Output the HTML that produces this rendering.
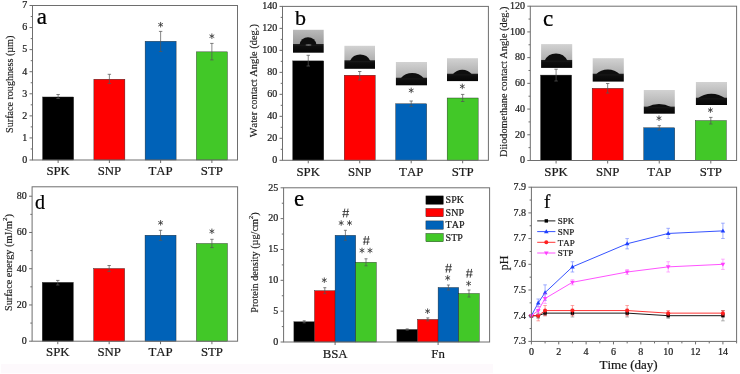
<!DOCTYPE html><html><head><meta charset="utf-8"><style>html,body{margin:0;padding:0;background:#fff;overflow:hidden}svg{display:block;will-change:transform;font-kerning:none}</style></head><body><svg width="740" height="374" viewBox="0 0 740 374" font-family='"Liberation Serif", serif'><rect width="740" height="374" fill="#fff"/><rect x="1" y="364" width="492" height="9.3" fill="#fdf9fc"/><line x1="30.70" y1="148.96" x2="32.50" y2="148.96" stroke="#6e6e6e" stroke-width="1"/><line x1="30.70" y1="126.89" x2="32.50" y2="126.89" stroke="#6e6e6e" stroke-width="1"/><line x1="30.70" y1="104.82" x2="32.50" y2="104.82" stroke="#6e6e6e" stroke-width="1"/><line x1="30.70" y1="82.75" x2="32.50" y2="82.75" stroke="#6e6e6e" stroke-width="1"/><line x1="30.70" y1="60.68" x2="32.50" y2="60.68" stroke="#6e6e6e" stroke-width="1"/><line x1="30.70" y1="38.61" x2="32.50" y2="38.61" stroke="#6e6e6e" stroke-width="1"/><line x1="30.70" y1="16.54" x2="32.50" y2="16.54" stroke="#6e6e6e" stroke-width="1"/><line x1="29.50" y1="160.00" x2="32.50" y2="160.00" stroke="#6e6e6e" stroke-width="1"/><text x="27.20" y="162.80" font-size="10" text-anchor="end" fill="#1a1a1a" stroke="#1a1a1a" stroke-width="0.22" >0</text><line x1="29.50" y1="137.93" x2="32.50" y2="137.93" stroke="#6e6e6e" stroke-width="1"/><text x="27.20" y="140.73" font-size="10" text-anchor="end" fill="#1a1a1a" stroke="#1a1a1a" stroke-width="0.22" >1</text><line x1="29.50" y1="115.86" x2="32.50" y2="115.86" stroke="#6e6e6e" stroke-width="1"/><text x="27.20" y="118.66" font-size="10" text-anchor="end" fill="#1a1a1a" stroke="#1a1a1a" stroke-width="0.22" >2</text><line x1="29.50" y1="93.79" x2="32.50" y2="93.79" stroke="#6e6e6e" stroke-width="1"/><text x="27.20" y="96.59" font-size="10" text-anchor="end" fill="#1a1a1a" stroke="#1a1a1a" stroke-width="0.22" >3</text><line x1="29.50" y1="71.71" x2="32.50" y2="71.71" stroke="#6e6e6e" stroke-width="1"/><text x="27.20" y="74.51" font-size="10" text-anchor="end" fill="#1a1a1a" stroke="#1a1a1a" stroke-width="0.22" >4</text><line x1="29.50" y1="49.64" x2="32.50" y2="49.64" stroke="#6e6e6e" stroke-width="1"/><text x="27.20" y="52.44" font-size="10" text-anchor="end" fill="#1a1a1a" stroke="#1a1a1a" stroke-width="0.22" >5</text><line x1="29.50" y1="27.57" x2="32.50" y2="27.57" stroke="#6e6e6e" stroke-width="1"/><text x="27.20" y="30.37" font-size="10" text-anchor="end" fill="#1a1a1a" stroke="#1a1a1a" stroke-width="0.22" >6</text><line x1="29.50" y1="5.50" x2="32.50" y2="5.50" stroke="#6e6e6e" stroke-width="1"/><text x="27.20" y="8.30" font-size="10" text-anchor="end" fill="#1a1a1a" stroke="#1a1a1a" stroke-width="0.22" >7</text><line x1="58.12" y1="160.00" x2="58.12" y2="163.00" stroke="#6e6e6e" stroke-width="1"/><text x="58.12" y="175.20" font-size="12.8" text-anchor="middle" fill="#1a1a1a" stroke="#1a1a1a" stroke-width="0.22" >SPK</text><line x1="109.38" y1="160.00" x2="109.38" y2="163.00" stroke="#6e6e6e" stroke-width="1"/><text x="109.38" y="175.20" font-size="12.8" text-anchor="middle" fill="#1a1a1a" stroke="#1a1a1a" stroke-width="0.22" >SNP</text><line x1="160.62" y1="160.00" x2="160.62" y2="163.00" stroke="#6e6e6e" stroke-width="1"/><text x="160.62" y="175.20" font-size="12.8" text-anchor="middle" fill="#1a1a1a" stroke="#1a1a1a" stroke-width="0.22" >TAP</text><line x1="211.88" y1="160.00" x2="211.88" y2="163.00" stroke="#6e6e6e" stroke-width="1"/><text x="211.88" y="175.20" font-size="12.8" text-anchor="middle" fill="#1a1a1a" stroke="#1a1a1a" stroke-width="0.22" >STP</text><rect x="42.62" y="96.99" width="31.00" height="63.01" fill="#000000" stroke="#202020" stroke-width="0.4"/><rect x="93.88" y="79.22" width="31.00" height="80.78" fill="#ff0000" stroke="#202020" stroke-width="0.4"/><rect x="145.12" y="41.26" width="31.00" height="118.74" fill="#0062b8" stroke="#202020" stroke-width="0.4"/><rect x="196.38" y="51.85" width="31.00" height="108.15" fill="#42c828" stroke="#202020" stroke-width="0.4"/><line x1="58.12" y1="94.50" x2="58.12" y2="98.50" stroke="#555555" stroke-width="0.7"/><line x1="56.42" y1="94.50" x2="59.83" y2="94.50" stroke="#555555" stroke-width="0.75"/><line x1="56.42" y1="98.50" x2="59.83" y2="98.50" stroke="#555555" stroke-width="0.75"/><line x1="109.38" y1="74.30" x2="109.38" y2="83.50" stroke="#555555" stroke-width="0.7"/><line x1="107.67" y1="74.30" x2="111.08" y2="74.30" stroke="#555555" stroke-width="0.75"/><line x1="107.67" y1="83.50" x2="111.08" y2="83.50" stroke="#555555" stroke-width="0.75"/><line x1="160.62" y1="31.40" x2="160.62" y2="51.50" stroke="#555555" stroke-width="0.7"/><line x1="158.93" y1="31.40" x2="162.32" y2="31.40" stroke="#555555" stroke-width="0.75"/><line x1="158.93" y1="51.50" x2="162.32" y2="51.50" stroke="#555555" stroke-width="0.75"/><line x1="211.88" y1="43.40" x2="211.88" y2="59.90" stroke="#555555" stroke-width="0.7"/><line x1="210.18" y1="43.40" x2="213.57" y2="43.40" stroke="#555555" stroke-width="0.75"/><line x1="210.18" y1="59.90" x2="213.57" y2="59.90" stroke="#555555" stroke-width="0.75"/><path d="M160.62,22.35L160.62,27.05M158.59,23.52L162.66,25.88M162.66,23.52L158.59,25.88" stroke="#3a3a3a" stroke-width="0.85" stroke-linecap="round" fill="none"/><path d="M211.88,33.85L211.88,38.55M209.84,35.03L213.91,37.38M213.91,35.03L209.84,37.38" stroke="#3a3a3a" stroke-width="0.85" stroke-linecap="round" fill="none"/><rect x="32.5" y="5.5" width="205.0" height="154.5" fill="none" stroke="#6e6e6e" stroke-width="1"/><text x="36.80" y="23.60" font-size="23" text-anchor="start" fill="#000" stroke="#000" stroke-width="0.22" >a</text><text x="0" y="0" font-size="10.1" text-anchor="middle" fill="#1a1a1a" stroke="#1a1a1a" stroke-width="0.15" transform="translate(12.80,84.30) rotate(-90)">Surface roughness (µm)</text><line x1="280.70" y1="149.31" x2="282.50" y2="149.31" stroke="#6e6e6e" stroke-width="1"/><line x1="280.70" y1="127.32" x2="282.50" y2="127.32" stroke="#6e6e6e" stroke-width="1"/><line x1="280.70" y1="105.34" x2="282.50" y2="105.34" stroke="#6e6e6e" stroke-width="1"/><line x1="280.70" y1="83.35" x2="282.50" y2="83.35" stroke="#6e6e6e" stroke-width="1"/><line x1="280.70" y1="61.36" x2="282.50" y2="61.36" stroke="#6e6e6e" stroke-width="1"/><line x1="280.70" y1="39.38" x2="282.50" y2="39.38" stroke="#6e6e6e" stroke-width="1"/><line x1="280.70" y1="17.39" x2="282.50" y2="17.39" stroke="#6e6e6e" stroke-width="1"/><line x1="279.50" y1="160.30" x2="282.50" y2="160.30" stroke="#6e6e6e" stroke-width="1"/><text x="277.20" y="163.10" font-size="10" text-anchor="end" fill="#1a1a1a" stroke="#1a1a1a" stroke-width="0.22" >0</text><line x1="279.50" y1="138.31" x2="282.50" y2="138.31" stroke="#6e6e6e" stroke-width="1"/><text x="277.20" y="141.11" font-size="10" text-anchor="end" fill="#1a1a1a" stroke="#1a1a1a" stroke-width="0.22" >20</text><line x1="279.50" y1="116.33" x2="282.50" y2="116.33" stroke="#6e6e6e" stroke-width="1"/><text x="277.20" y="119.13" font-size="10" text-anchor="end" fill="#1a1a1a" stroke="#1a1a1a" stroke-width="0.22" >40</text><line x1="279.50" y1="94.34" x2="282.50" y2="94.34" stroke="#6e6e6e" stroke-width="1"/><text x="277.20" y="97.14" font-size="10" text-anchor="end" fill="#1a1a1a" stroke="#1a1a1a" stroke-width="0.22" >60</text><line x1="279.50" y1="72.36" x2="282.50" y2="72.36" stroke="#6e6e6e" stroke-width="1"/><text x="277.20" y="75.16" font-size="10" text-anchor="end" fill="#1a1a1a" stroke="#1a1a1a" stroke-width="0.22" >80</text><line x1="279.50" y1="50.37" x2="282.50" y2="50.37" stroke="#6e6e6e" stroke-width="1"/><text x="277.20" y="53.17" font-size="10" text-anchor="end" fill="#1a1a1a" stroke="#1a1a1a" stroke-width="0.22" >100</text><line x1="279.50" y1="28.39" x2="282.50" y2="28.39" stroke="#6e6e6e" stroke-width="1"/><text x="277.20" y="31.19" font-size="10" text-anchor="end" fill="#1a1a1a" stroke="#1a1a1a" stroke-width="0.22" >120</text><line x1="279.50" y1="6.40" x2="282.50" y2="6.40" stroke="#6e6e6e" stroke-width="1"/><text x="277.20" y="9.20" font-size="10" text-anchor="end" fill="#1a1a1a" stroke="#1a1a1a" stroke-width="0.22" >140</text><line x1="308.24" y1="160.30" x2="308.24" y2="163.30" stroke="#6e6e6e" stroke-width="1"/><text x="308.24" y="175.50" font-size="12.8" text-anchor="middle" fill="#1a1a1a" stroke="#1a1a1a" stroke-width="0.22" >SPK</text><line x1="359.71" y1="160.30" x2="359.71" y2="163.30" stroke="#6e6e6e" stroke-width="1"/><text x="359.71" y="175.50" font-size="12.8" text-anchor="middle" fill="#1a1a1a" stroke="#1a1a1a" stroke-width="0.22" >SNP</text><line x1="411.19" y1="160.30" x2="411.19" y2="163.30" stroke="#6e6e6e" stroke-width="1"/><text x="411.19" y="175.50" font-size="12.8" text-anchor="middle" fill="#1a1a1a" stroke="#1a1a1a" stroke-width="0.22" >TAP</text><line x1="462.66" y1="160.30" x2="462.66" y2="163.30" stroke="#6e6e6e" stroke-width="1"/><text x="462.66" y="175.50" font-size="12.8" text-anchor="middle" fill="#1a1a1a" stroke="#1a1a1a" stroke-width="0.22" >STP</text><rect x="292.74" y="60.90" width="31.00" height="99.40" fill="#000000" stroke="#202020" stroke-width="0.4"/><rect x="344.21" y="75.20" width="31.00" height="85.10" fill="#ff0000" stroke="#202020" stroke-width="0.4"/><rect x="395.69" y="103.80" width="31.00" height="56.50" fill="#0062b8" stroke="#202020" stroke-width="0.4"/><rect x="447.16" y="98.00" width="31.00" height="62.30" fill="#42c828" stroke="#202020" stroke-width="0.4"/><line x1="308.24" y1="55.30" x2="308.24" y2="66.00" stroke="#555555" stroke-width="0.7"/><line x1="306.54" y1="55.30" x2="309.94" y2="55.30" stroke="#555555" stroke-width="0.75"/><line x1="306.54" y1="66.00" x2="309.94" y2="66.00" stroke="#555555" stroke-width="0.75"/><line x1="359.71" y1="71.50" x2="359.71" y2="80.00" stroke="#555555" stroke-width="0.7"/><line x1="358.01" y1="71.50" x2="361.41" y2="71.50" stroke="#555555" stroke-width="0.75"/><line x1="358.01" y1="80.00" x2="361.41" y2="80.00" stroke="#555555" stroke-width="0.75"/><line x1="411.19" y1="101.00" x2="411.19" y2="106.50" stroke="#555555" stroke-width="0.7"/><line x1="409.49" y1="101.00" x2="412.89" y2="101.00" stroke="#555555" stroke-width="0.75"/><line x1="409.49" y1="106.50" x2="412.89" y2="106.50" stroke="#555555" stroke-width="0.75"/><line x1="462.66" y1="94.40" x2="462.66" y2="101.50" stroke="#555555" stroke-width="0.7"/><line x1="460.96" y1="94.40" x2="464.36" y2="94.40" stroke="#555555" stroke-width="0.75"/><line x1="460.96" y1="101.50" x2="464.36" y2="101.50" stroke="#555555" stroke-width="0.75"/><path d="M411.20,88.05L411.20,92.75M409.16,89.23L413.24,91.58M413.24,89.23L409.16,91.58" stroke="#3a3a3a" stroke-width="0.85" stroke-linecap="round" fill="none"/><path d="M462.30,84.05L462.30,88.75M460.26,85.23L464.34,87.58M464.34,85.23L460.26,87.58" stroke="#3a3a3a" stroke-width="0.85" stroke-linecap="round" fill="none"/><defs><linearGradient id="g0" x1="0" y1="0" x2="0" y2="1"><stop offset="0" stop-color="#bababa"/><stop offset="1" stop-color="#9a9a9a"/></linearGradient><linearGradient id="s0" x1="0" y1="0" x2="0" y2="1"><stop offset="0" stop-color="#222"/><stop offset="0.3" stop-color="#0e0e0e"/><stop offset="1" stop-color="#060606"/></linearGradient></defs><rect x="293.00" y="29.80" width="30.70" height="14.20" fill="url(#g0)"/><rect x="293.00" y="44.00" width="30.70" height="8.70" fill="url(#s0)"/><path d="M299.60,44.80 A8.44,8.44 0 0 1 316.40,44.80 Z" fill="#0e0e0e"/><ellipse cx="308.5" cy="45" rx="3.2" ry="0.65" fill="#bdbdbd" opacity="0.6"/><defs><linearGradient id="g1" x1="0" y1="0" x2="0" y2="1"><stop offset="0" stop-color="#d2d2d2"/><stop offset="1" stop-color="#b0b0b0"/></linearGradient><linearGradient id="s1" x1="0" y1="0" x2="0" y2="1"><stop offset="0" stop-color="#222"/><stop offset="0.3" stop-color="#0e0e0e"/><stop offset="1" stop-color="#060606"/></linearGradient></defs><rect x="344.40" y="45.80" width="30.60" height="14.40" fill="url(#g1)"/><rect x="344.40" y="60.20" width="30.60" height="8.60" fill="url(#s1)"/><path d="M350.00,61.00 A11.25,11.25 0 0 1 370.30,61.00 Z" fill="#0e0e0e"/><defs><linearGradient id="g2" x1="0" y1="0" x2="0" y2="1"><stop offset="0" stop-color="#d2d2d2"/><stop offset="1" stop-color="#b0b0b0"/></linearGradient><linearGradient id="s2" x1="0" y1="0" x2="0" y2="1"><stop offset="0" stop-color="#222"/><stop offset="0.3" stop-color="#0e0e0e"/><stop offset="1" stop-color="#060606"/></linearGradient></defs><rect x="395.90" y="62.00" width="31.10" height="15.60" fill="url(#g2)"/><rect x="395.90" y="77.60" width="31.10" height="7.70" fill="url(#s2)"/><path d="M400.60,78.40 A15.09,15.09 0 0 1 423.90,78.40 Z" fill="#0e0e0e"/><defs><linearGradient id="g3" x1="0" y1="0" x2="0" y2="1"><stop offset="0" stop-color="#d2d2d2"/><stop offset="1" stop-color="#b0b0b0"/></linearGradient><linearGradient id="s3" x1="0" y1="0" x2="0" y2="1"><stop offset="0" stop-color="#222"/><stop offset="0.3" stop-color="#0e0e0e"/><stop offset="1" stop-color="#060606"/></linearGradient></defs><rect x="447.00" y="58.20" width="31.00" height="15.40" fill="url(#g3)"/><rect x="447.00" y="73.60" width="31.00" height="7.50" fill="url(#s3)"/><path d="M452.60,74.40 A12.53,12.53 0 0 1 472.00,74.40 Z" fill="#0e0e0e"/><rect x="282.5" y="6.4" width="205.89999999999998" height="153.9" fill="none" stroke="#6e6e6e" stroke-width="1"/><text x="295.00" y="25.00" font-size="22" text-anchor="start" fill="#000" stroke="#000" stroke-width="0.22" >b</text><text x="0" y="0" font-size="10.4" text-anchor="middle" fill="#1a1a1a" stroke="#1a1a1a" stroke-width="0.15" transform="translate(257.00,80.70) rotate(-90)">Water contact Angle (deg.)</text><line x1="528.50" y1="147.64" x2="530.30" y2="147.64" stroke="#6e6e6e" stroke-width="1"/><line x1="528.50" y1="121.92" x2="530.30" y2="121.92" stroke="#6e6e6e" stroke-width="1"/><line x1="528.50" y1="96.21" x2="530.30" y2="96.21" stroke="#6e6e6e" stroke-width="1"/><line x1="528.50" y1="70.49" x2="530.30" y2="70.49" stroke="#6e6e6e" stroke-width="1"/><line x1="528.50" y1="44.77" x2="530.30" y2="44.77" stroke="#6e6e6e" stroke-width="1"/><line x1="528.50" y1="19.06" x2="530.30" y2="19.06" stroke="#6e6e6e" stroke-width="1"/><line x1="527.30" y1="160.50" x2="530.30" y2="160.50" stroke="#6e6e6e" stroke-width="1"/><text x="525.00" y="163.30" font-size="10" text-anchor="end" fill="#1a1a1a" stroke="#1a1a1a" stroke-width="0.22" >0</text><line x1="527.30" y1="134.78" x2="530.30" y2="134.78" stroke="#6e6e6e" stroke-width="1"/><text x="525.00" y="137.58" font-size="10" text-anchor="end" fill="#1a1a1a" stroke="#1a1a1a" stroke-width="0.22" >20</text><line x1="527.30" y1="109.07" x2="530.30" y2="109.07" stroke="#6e6e6e" stroke-width="1"/><text x="525.00" y="111.87" font-size="10" text-anchor="end" fill="#1a1a1a" stroke="#1a1a1a" stroke-width="0.22" >40</text><line x1="527.30" y1="83.35" x2="530.30" y2="83.35" stroke="#6e6e6e" stroke-width="1"/><text x="525.00" y="86.15" font-size="10" text-anchor="end" fill="#1a1a1a" stroke="#1a1a1a" stroke-width="0.22" >60</text><line x1="527.30" y1="57.63" x2="530.30" y2="57.63" stroke="#6e6e6e" stroke-width="1"/><text x="525.00" y="60.43" font-size="10" text-anchor="end" fill="#1a1a1a" stroke="#1a1a1a" stroke-width="0.22" >80</text><line x1="527.30" y1="31.92" x2="530.30" y2="31.92" stroke="#6e6e6e" stroke-width="1"/><text x="525.00" y="34.72" font-size="10" text-anchor="end" fill="#1a1a1a" stroke="#1a1a1a" stroke-width="0.22" >100</text><line x1="527.30" y1="6.20" x2="530.30" y2="6.20" stroke="#6e6e6e" stroke-width="1"/><text x="525.00" y="9.00" font-size="10" text-anchor="end" fill="#1a1a1a" stroke="#1a1a1a" stroke-width="0.22" >120</text><line x1="556.09" y1="160.50" x2="556.09" y2="163.50" stroke="#6e6e6e" stroke-width="1"/><text x="556.09" y="175.70" font-size="12.8" text-anchor="middle" fill="#1a1a1a" stroke="#1a1a1a" stroke-width="0.22" >SPK</text><line x1="607.66" y1="160.50" x2="607.66" y2="163.50" stroke="#6e6e6e" stroke-width="1"/><text x="607.66" y="175.70" font-size="12.8" text-anchor="middle" fill="#1a1a1a" stroke="#1a1a1a" stroke-width="0.22" >SNP</text><line x1="659.24" y1="160.50" x2="659.24" y2="163.50" stroke="#6e6e6e" stroke-width="1"/><text x="659.24" y="175.70" font-size="12.8" text-anchor="middle" fill="#1a1a1a" stroke="#1a1a1a" stroke-width="0.22" >TAP</text><line x1="710.81" y1="160.50" x2="710.81" y2="163.50" stroke="#6e6e6e" stroke-width="1"/><text x="710.81" y="175.70" font-size="12.8" text-anchor="middle" fill="#1a1a1a" stroke="#1a1a1a" stroke-width="0.22" >STP</text><rect x="540.59" y="75.10" width="31.00" height="85.40" fill="#000000" stroke="#202020" stroke-width="0.4"/><rect x="592.16" y="88.30" width="31.00" height="72.20" fill="#ff0000" stroke="#202020" stroke-width="0.4"/><rect x="643.74" y="127.80" width="31.00" height="32.70" fill="#0062b8" stroke="#202020" stroke-width="0.4"/><rect x="695.31" y="120.60" width="31.00" height="39.90" fill="#42c828" stroke="#202020" stroke-width="0.4"/><line x1="556.09" y1="69.20" x2="556.09" y2="81.00" stroke="#555555" stroke-width="0.7"/><line x1="554.39" y1="69.20" x2="557.79" y2="69.20" stroke="#555555" stroke-width="0.75"/><line x1="554.39" y1="81.00" x2="557.79" y2="81.00" stroke="#555555" stroke-width="0.75"/><line x1="607.66" y1="83.50" x2="607.66" y2="93.00" stroke="#555555" stroke-width="0.7"/><line x1="605.96" y1="83.50" x2="609.36" y2="83.50" stroke="#555555" stroke-width="0.75"/><line x1="605.96" y1="93.00" x2="609.36" y2="93.00" stroke="#555555" stroke-width="0.75"/><line x1="659.24" y1="125.70" x2="659.24" y2="130.00" stroke="#555555" stroke-width="0.7"/><line x1="657.54" y1="125.70" x2="660.94" y2="125.70" stroke="#555555" stroke-width="0.75"/><line x1="657.54" y1="130.00" x2="660.94" y2="130.00" stroke="#555555" stroke-width="0.75"/><line x1="710.81" y1="117.40" x2="710.81" y2="124.00" stroke="#555555" stroke-width="0.7"/><line x1="709.11" y1="117.40" x2="712.51" y2="117.40" stroke="#555555" stroke-width="0.75"/><line x1="709.11" y1="124.00" x2="712.51" y2="124.00" stroke="#555555" stroke-width="0.75"/><path d="M659.00,115.85L659.00,120.55M656.96,117.03L661.04,119.38M661.04,117.03L656.96,119.38" stroke="#3a3a3a" stroke-width="0.85" stroke-linecap="round" fill="none"/><path d="M710.40,107.75L710.40,112.45M708.36,108.92L712.44,111.27M712.44,108.92L708.36,111.27" stroke="#3a3a3a" stroke-width="0.85" stroke-linecap="round" fill="none"/><defs><linearGradient id="g4" x1="0" y1="0" x2="0" y2="1"><stop offset="0" stop-color="#d2d2d2"/><stop offset="1" stop-color="#b0b0b0"/></linearGradient><linearGradient id="s4" x1="0" y1="0" x2="0" y2="1"><stop offset="0" stop-color="#222"/><stop offset="0.3" stop-color="#0e0e0e"/><stop offset="1" stop-color="#060606"/></linearGradient></defs><rect x="541.10" y="44.10" width="31.10" height="15.80" fill="url(#g4)"/><rect x="541.10" y="59.90" width="31.10" height="8.00" fill="url(#s4)"/><path d="M544.60,60.70 A12.55,12.55 0 0 1 567.40,60.70 Z" fill="#0e0e0e"/><defs><linearGradient id="g5" x1="0" y1="0" x2="0" y2="1"><stop offset="0" stop-color="#d2d2d2"/><stop offset="1" stop-color="#b0b0b0"/></linearGradient><linearGradient id="s5" x1="0" y1="0" x2="0" y2="1"><stop offset="0" stop-color="#222"/><stop offset="0.3" stop-color="#0e0e0e"/><stop offset="1" stop-color="#060606"/></linearGradient></defs><rect x="592.70" y="58.20" width="31.10" height="15.40" fill="url(#g5)"/><rect x="592.70" y="73.60" width="31.10" height="8.00" fill="url(#s5)"/><path d="M595.80,74.40 A17.27,17.27 0 0 1 619.90,74.40 Z" fill="#0e0e0e"/><defs><linearGradient id="g6" x1="0" y1="0" x2="0" y2="1"><stop offset="0" stop-color="#d2d2d2"/><stop offset="1" stop-color="#b0b0b0"/></linearGradient><linearGradient id="s6" x1="0" y1="0" x2="0" y2="1"><stop offset="0" stop-color="#222"/><stop offset="0.3" stop-color="#0e0e0e"/><stop offset="1" stop-color="#060606"/></linearGradient></defs><rect x="643.80" y="90.00" width="31.00" height="16.50" fill="url(#g6)"/><rect x="643.80" y="106.50" width="31.00" height="7.20" fill="url(#s6)"/><path d="M646.60,107.30 A26.35,26.35 0 0 1 671.40,107.30 Z" fill="#0e0e0e"/><defs><linearGradient id="g7" x1="0" y1="0" x2="0" y2="1"><stop offset="0" stop-color="#d2d2d2"/><stop offset="1" stop-color="#b0b0b0"/></linearGradient><linearGradient id="s7" x1="0" y1="0" x2="0" y2="1"><stop offset="0" stop-color="#222"/><stop offset="0.3" stop-color="#0e0e0e"/><stop offset="1" stop-color="#060606"/></linearGradient></defs><rect x="695.90" y="82.00" width="31.10" height="15.60" fill="url(#g7)"/><rect x="695.90" y="97.60" width="31.10" height="7.40" fill="url(#s7)"/><path d="M697.40,98.40 A23.20,23.20 0 0 1 725.40,98.40 Z" fill="#0e0e0e"/><rect x="530.3" y="6.2" width="206.30000000000007" height="154.3" fill="none" stroke="#6e6e6e" stroke-width="1"/><text x="543.10" y="25.50" font-size="23" text-anchor="start" fill="#000" stroke="#000" stroke-width="0.22" >c</text><text x="0" y="0" font-size="10.3" text-anchor="middle" fill="#1a1a1a" stroke="#1a1a1a" stroke-width="0.15" transform="translate(506.80,81.80) rotate(-90)">Diiodomethane contact Angle (deg.)</text><line x1="30.30" y1="323.08" x2="32.10" y2="323.08" stroke="#6e6e6e" stroke-width="1"/><line x1="30.30" y1="286.83" x2="32.10" y2="286.83" stroke="#6e6e6e" stroke-width="1"/><line x1="30.30" y1="250.59" x2="32.10" y2="250.59" stroke="#6e6e6e" stroke-width="1"/><line x1="30.30" y1="214.35" x2="32.10" y2="214.35" stroke="#6e6e6e" stroke-width="1"/><line x1="29.10" y1="341.20" x2="32.10" y2="341.20" stroke="#6e6e6e" stroke-width="1"/><text x="26.80" y="344.00" font-size="10" text-anchor="end" fill="#1a1a1a" stroke="#1a1a1a" stroke-width="0.22" >0</text><line x1="29.10" y1="304.96" x2="32.10" y2="304.96" stroke="#6e6e6e" stroke-width="1"/><text x="26.80" y="307.76" font-size="10" text-anchor="end" fill="#1a1a1a" stroke="#1a1a1a" stroke-width="0.22" >20</text><line x1="29.10" y1="268.71" x2="32.10" y2="268.71" stroke="#6e6e6e" stroke-width="1"/><text x="26.80" y="271.51" font-size="10" text-anchor="end" fill="#1a1a1a" stroke="#1a1a1a" stroke-width="0.22" >40</text><line x1="29.10" y1="232.47" x2="32.10" y2="232.47" stroke="#6e6e6e" stroke-width="1"/><text x="26.80" y="235.27" font-size="10" text-anchor="end" fill="#1a1a1a" stroke="#1a1a1a" stroke-width="0.22" >60</text><line x1="29.10" y1="196.22" x2="32.10" y2="196.22" stroke="#6e6e6e" stroke-width="1"/><text x="26.80" y="199.02" font-size="10" text-anchor="end" fill="#1a1a1a" stroke="#1a1a1a" stroke-width="0.22" >80</text><line x1="57.79" y1="341.20" x2="57.79" y2="344.20" stroke="#6e6e6e" stroke-width="1"/><text x="57.79" y="356.40" font-size="12.8" text-anchor="middle" fill="#1a1a1a" stroke="#1a1a1a" stroke-width="0.22" >SPK</text><line x1="109.16" y1="341.20" x2="109.16" y2="344.20" stroke="#6e6e6e" stroke-width="1"/><text x="109.16" y="356.40" font-size="12.8" text-anchor="middle" fill="#1a1a1a" stroke="#1a1a1a" stroke-width="0.22" >SNP</text><line x1="160.54" y1="341.20" x2="160.54" y2="344.20" stroke="#6e6e6e" stroke-width="1"/><text x="160.54" y="356.40" font-size="12.8" text-anchor="middle" fill="#1a1a1a" stroke="#1a1a1a" stroke-width="0.22" >TAP</text><line x1="211.91" y1="341.20" x2="211.91" y2="344.20" stroke="#6e6e6e" stroke-width="1"/><text x="211.91" y="356.40" font-size="12.8" text-anchor="middle" fill="#1a1a1a" stroke="#1a1a1a" stroke-width="0.22" >STP</text><rect x="42.29" y="282.40" width="31.00" height="58.80" fill="#000000" stroke="#202020" stroke-width="0.4"/><rect x="93.66" y="268.50" width="31.00" height="72.70" fill="#ff0000" stroke="#202020" stroke-width="0.4"/><rect x="145.04" y="235.20" width="31.00" height="106.00" fill="#0062b8" stroke="#202020" stroke-width="0.4"/><rect x="196.41" y="243.50" width="31.00" height="97.70" fill="#42c828" stroke="#202020" stroke-width="0.4"/><line x1="57.79" y1="280.40" x2="57.79" y2="285.00" stroke="#555555" stroke-width="0.7"/><line x1="56.09" y1="280.40" x2="59.49" y2="280.40" stroke="#555555" stroke-width="0.75"/><line x1="56.09" y1="285.00" x2="59.49" y2="285.00" stroke="#555555" stroke-width="0.75"/><line x1="109.16" y1="265.50" x2="109.16" y2="271.40" stroke="#555555" stroke-width="0.7"/><line x1="107.46" y1="265.50" x2="110.86" y2="265.50" stroke="#555555" stroke-width="0.75"/><line x1="107.46" y1="271.40" x2="110.86" y2="271.40" stroke="#555555" stroke-width="0.75"/><line x1="160.54" y1="230.30" x2="160.54" y2="240.30" stroke="#555555" stroke-width="0.7"/><line x1="158.84" y1="230.30" x2="162.24" y2="230.30" stroke="#555555" stroke-width="0.75"/><line x1="158.84" y1="240.30" x2="162.24" y2="240.30" stroke="#555555" stroke-width="0.75"/><line x1="211.91" y1="239.30" x2="211.91" y2="247.60" stroke="#555555" stroke-width="0.7"/><line x1="210.21" y1="239.30" x2="213.61" y2="239.30" stroke="#555555" stroke-width="0.75"/><line x1="210.21" y1="247.60" x2="213.61" y2="247.60" stroke="#555555" stroke-width="0.75"/><path d="M160.60,220.45L160.60,225.15M158.56,221.62L162.64,223.98M162.64,221.62L158.56,223.98" stroke="#3a3a3a" stroke-width="0.85" stroke-linecap="round" fill="none"/><path d="M211.90,228.95L211.90,233.65M209.86,230.12L213.94,232.48M213.94,230.12L209.86,232.48" stroke="#3a3a3a" stroke-width="0.85" stroke-linecap="round" fill="none"/><rect x="32.1" y="186.8" width="205.5" height="154.39999999999998" fill="none" stroke="#6e6e6e" stroke-width="1"/><text x="35.00" y="208.50" font-size="20" text-anchor="start" fill="#000" stroke="#000" stroke-width="0.22" >d</text><text x="0" y="0" font-size="10.2" text-anchor="middle" fill="#1a1a1a" stroke="#1a1a1a" stroke-width="0.15" transform="translate(11.60,262.50) rotate(-90)">Surface energy (mJ/m<tspan font-size="7" dy="-5">2</tspan><tspan dy="5">)</tspan></text><line x1="281.80" y1="326.58" x2="283.60" y2="326.58" stroke="#6e6e6e" stroke-width="1"/><line x1="281.80" y1="295.74" x2="283.60" y2="295.74" stroke="#6e6e6e" stroke-width="1"/><line x1="281.80" y1="264.90" x2="283.60" y2="264.90" stroke="#6e6e6e" stroke-width="1"/><line x1="281.80" y1="234.06" x2="283.60" y2="234.06" stroke="#6e6e6e" stroke-width="1"/><line x1="281.80" y1="203.22" x2="283.60" y2="203.22" stroke="#6e6e6e" stroke-width="1"/><line x1="280.60" y1="342.00" x2="283.60" y2="342.00" stroke="#6e6e6e" stroke-width="1"/><text x="278.30" y="344.80" font-size="10" text-anchor="end" fill="#1a1a1a" stroke="#1a1a1a" stroke-width="0.22" >0</text><line x1="280.60" y1="311.16" x2="283.60" y2="311.16" stroke="#6e6e6e" stroke-width="1"/><text x="278.30" y="313.96" font-size="10" text-anchor="end" fill="#1a1a1a" stroke="#1a1a1a" stroke-width="0.22" >5</text><line x1="280.60" y1="280.32" x2="283.60" y2="280.32" stroke="#6e6e6e" stroke-width="1"/><text x="278.30" y="283.12" font-size="10" text-anchor="end" fill="#1a1a1a" stroke="#1a1a1a" stroke-width="0.22" >10</text><line x1="280.60" y1="249.48" x2="283.60" y2="249.48" stroke="#6e6e6e" stroke-width="1"/><text x="278.30" y="252.28" font-size="10" text-anchor="end" fill="#1a1a1a" stroke="#1a1a1a" stroke-width="0.22" >15</text><line x1="280.60" y1="218.64" x2="283.60" y2="218.64" stroke="#6e6e6e" stroke-width="1"/><text x="278.30" y="221.44" font-size="10" text-anchor="end" fill="#1a1a1a" stroke="#1a1a1a" stroke-width="0.22" >20</text><line x1="280.60" y1="187.80" x2="283.60" y2="187.80" stroke="#6e6e6e" stroke-width="1"/><text x="278.30" y="190.60" font-size="10" text-anchor="end" fill="#1a1a1a" stroke="#1a1a1a" stroke-width="0.22" >25</text><line x1="335.10" y1="342.00" x2="335.10" y2="345.00" stroke="#6e6e6e" stroke-width="1"/><text x="335.10" y="357.50" font-size="12.8" text-anchor="middle" fill="#1a1a1a" stroke="#1a1a1a" stroke-width="0.22" >BSA</text><line x1="438.10" y1="342.00" x2="438.10" y2="345.00" stroke="#6e6e6e" stroke-width="1"/><text x="438.10" y="357.50" font-size="12.8" text-anchor="middle" fill="#1a1a1a" stroke="#1a1a1a" stroke-width="0.22" >Fn</text><rect x="293.90" y="321.80" width="20.60" height="20.20" fill="#000000" stroke="#202020" stroke-width="0.4"/><rect x="314.50" y="290.70" width="20.60" height="51.30" fill="#ff0000" stroke="#202020" stroke-width="0.4"/><rect x="335.10" y="235.30" width="20.60" height="106.70" fill="#0062b8" stroke="#202020" stroke-width="0.4"/><rect x="355.70" y="262.30" width="20.60" height="79.70" fill="#42c828" stroke="#202020" stroke-width="0.4"/><rect x="396.90" y="329.50" width="20.60" height="12.50" fill="#000000" stroke="#202020" stroke-width="0.4"/><rect x="417.50" y="319.40" width="20.60" height="22.60" fill="#ff0000" stroke="#202020" stroke-width="0.4"/><rect x="438.10" y="287.50" width="20.60" height="54.50" fill="#0062b8" stroke="#202020" stroke-width="0.4"/><rect x="458.70" y="293.50" width="20.60" height="48.50" fill="#42c828" stroke="#202020" stroke-width="0.4"/><line x1="304.20" y1="320.80" x2="304.20" y2="322.80" stroke="#555555" stroke-width="0.7"/><line x1="302.70" y1="320.80" x2="305.70" y2="320.80" stroke="#555555" stroke-width="0.75"/><line x1="302.70" y1="322.80" x2="305.70" y2="322.80" stroke="#555555" stroke-width="0.75"/><line x1="324.80" y1="287.70" x2="324.80" y2="293.70" stroke="#555555" stroke-width="0.7"/><line x1="323.30" y1="287.70" x2="326.30" y2="287.70" stroke="#555555" stroke-width="0.75"/><line x1="323.30" y1="293.70" x2="326.30" y2="293.70" stroke="#555555" stroke-width="0.75"/><line x1="345.40" y1="230.30" x2="345.40" y2="240.30" stroke="#555555" stroke-width="0.7"/><line x1="343.90" y1="230.30" x2="346.90" y2="230.30" stroke="#555555" stroke-width="0.75"/><line x1="343.90" y1="240.30" x2="346.90" y2="240.30" stroke="#555555" stroke-width="0.75"/><line x1="366.00" y1="258.80" x2="366.00" y2="265.80" stroke="#555555" stroke-width="0.7"/><line x1="364.50" y1="258.80" x2="367.50" y2="258.80" stroke="#555555" stroke-width="0.75"/><line x1="364.50" y1="265.80" x2="367.50" y2="265.80" stroke="#555555" stroke-width="0.75"/><line x1="407.20" y1="328.90" x2="407.20" y2="330.10" stroke="#555555" stroke-width="0.7"/><line x1="405.70" y1="328.90" x2="408.70" y2="328.90" stroke="#555555" stroke-width="0.75"/><line x1="405.70" y1="330.10" x2="408.70" y2="330.10" stroke="#555555" stroke-width="0.75"/><line x1="427.80" y1="317.90" x2="427.80" y2="320.90" stroke="#555555" stroke-width="0.7"/><line x1="426.30" y1="317.90" x2="429.30" y2="317.90" stroke="#555555" stroke-width="0.75"/><line x1="426.30" y1="320.90" x2="429.30" y2="320.90" stroke="#555555" stroke-width="0.75"/><line x1="448.40" y1="285.00" x2="448.40" y2="290.00" stroke="#555555" stroke-width="0.7"/><line x1="446.90" y1="285.00" x2="449.90" y2="285.00" stroke="#555555" stroke-width="0.75"/><line x1="446.90" y1="290.00" x2="449.90" y2="290.00" stroke="#555555" stroke-width="0.75"/><line x1="469.00" y1="290.00" x2="469.00" y2="297.00" stroke="#555555" stroke-width="0.7"/><line x1="467.50" y1="290.00" x2="470.50" y2="290.00" stroke="#555555" stroke-width="0.75"/><line x1="467.50" y1="297.00" x2="470.50" y2="297.00" stroke="#555555" stroke-width="0.75"/><path d="M324.30,277.85L324.30,282.55M322.26,279.02L326.34,281.38M326.34,279.02L322.26,281.38" stroke="#3a3a3a" stroke-width="0.85" stroke-linecap="round" fill="none"/><path d="M344.80,208.60L343.40,217.40M348.00,208.60L346.60,217.40M342.50,211.50L349.10,211.50M342.30,214.60L348.90,214.60" stroke="#333" stroke-width="0.85" fill="none"/><path d="M341.20,220.65L341.20,225.35M339.16,221.82L343.24,224.18M343.24,221.82L339.16,224.18" stroke="#3a3a3a" stroke-width="0.85" stroke-linecap="round" fill="none"/><path d="M349.50,220.65L349.50,225.35M347.46,221.82L351.54,224.18M351.54,221.82L347.46,224.18" stroke="#3a3a3a" stroke-width="0.85" stroke-linecap="round" fill="none"/><path d="M365.40,236.10L364.00,244.90M368.60,236.10L367.20,244.90M363.10,239.00L369.70,239.00M362.90,242.10L369.50,242.10" stroke="#333" stroke-width="0.85" fill="none"/><path d="M362.00,248.15L362.00,252.85M359.96,249.32L364.04,251.68M364.04,249.32L359.96,251.68" stroke="#3a3a3a" stroke-width="0.85" stroke-linecap="round" fill="none"/><path d="M370.00,248.15L370.00,252.85M367.96,249.32L372.04,251.68M372.04,249.32L367.96,251.68" stroke="#3a3a3a" stroke-width="0.85" stroke-linecap="round" fill="none"/><path d="M427.60,308.85L427.60,313.55M425.56,310.02L429.64,312.38M429.64,310.02L425.56,312.38" stroke="#3a3a3a" stroke-width="0.85" stroke-linecap="round" fill="none"/><path d="M447.60,263.80L446.20,272.60M450.80,263.80L449.40,272.60M445.30,266.70L451.90,266.70M445.10,269.80L451.70,269.80" stroke="#333" stroke-width="0.85" fill="none"/><path d="M447.70,275.55L447.70,280.25M445.66,276.72L449.74,279.07M449.74,276.72L445.66,279.07" stroke="#3a3a3a" stroke-width="0.85" stroke-linecap="round" fill="none"/><path d="M468.40,268.90L467.00,277.70M471.60,268.90L470.20,277.70M466.10,271.80L472.70,271.80M465.90,274.90L472.50,274.90" stroke="#333" stroke-width="0.85" fill="none"/><path d="M468.60,281.15L468.60,285.85M466.56,282.32L470.64,284.68M470.64,282.32L466.56,284.68" stroke="#3a3a3a" stroke-width="0.85" stroke-linecap="round" fill="none"/><rect x="425.9" y="195.90" width="17.4" height="8.4" fill="#000000" stroke="#222" stroke-width="0.4"/><text x="445.60" y="203.00" font-size="10" text-anchor="start" fill="#1a1a1a" stroke="#1a1a1a" stroke-width="0.22" >SPK</text><rect x="425.9" y="208.40" width="17.4" height="8.4" fill="#ff0000" stroke="#222" stroke-width="0.4"/><text x="445.60" y="215.50" font-size="10" text-anchor="start" fill="#1a1a1a" stroke="#1a1a1a" stroke-width="0.22" >SNP</text><rect x="425.9" y="220.90" width="17.4" height="8.4" fill="#0062b8" stroke="#222" stroke-width="0.4"/><text x="445.60" y="228.00" font-size="10" text-anchor="start" fill="#1a1a1a" stroke="#1a1a1a" stroke-width="0.22" >TAP</text><rect x="425.9" y="233.40" width="17.4" height="8.4" fill="#42c828" stroke="#222" stroke-width="0.4"/><text x="445.60" y="240.50" font-size="10" text-anchor="start" fill="#1a1a1a" stroke="#1a1a1a" stroke-width="0.22" >STP</text><rect x="283.6" y="187.8" width="206.0" height="154.2" fill="none" stroke="#6e6e6e" stroke-width="1"/><text x="294.00" y="206.30" font-size="23" text-anchor="start" fill="#000" stroke="#000" stroke-width="0.22" >e</text><text x="0" y="0" font-size="10.2" text-anchor="middle" fill="#1a1a1a" stroke="#1a1a1a" stroke-width="0.15" transform="translate(257.60,262.50) rotate(-90)">Protein density (µg/cm<tspan font-size="7" dy="-5">2</tspan><tspan dy="5">)</tspan></text><line x1="529.60" y1="328.55" x2="531.40" y2="328.55" stroke="#6e6e6e" stroke-width="1"/><line x1="529.60" y1="302.85" x2="531.40" y2="302.85" stroke="#6e6e6e" stroke-width="1"/><line x1="529.60" y1="277.15" x2="531.40" y2="277.15" stroke="#6e6e6e" stroke-width="1"/><line x1="529.60" y1="251.45" x2="531.40" y2="251.45" stroke="#6e6e6e" stroke-width="1"/><line x1="529.60" y1="225.75" x2="531.40" y2="225.75" stroke="#6e6e6e" stroke-width="1"/><line x1="529.60" y1="200.05" x2="531.40" y2="200.05" stroke="#6e6e6e" stroke-width="1"/><line x1="528.40" y1="341.40" x2="531.40" y2="341.40" stroke="#6e6e6e" stroke-width="1"/><text x="526.10" y="344.20" font-size="10" text-anchor="end" fill="#1a1a1a" stroke="#1a1a1a" stroke-width="0.22" >7.3</text><line x1="528.40" y1="315.70" x2="531.40" y2="315.70" stroke="#6e6e6e" stroke-width="1"/><text x="526.10" y="318.50" font-size="10" text-anchor="end" fill="#1a1a1a" stroke="#1a1a1a" stroke-width="0.22" >7.4</text><line x1="528.40" y1="290.00" x2="531.40" y2="290.00" stroke="#6e6e6e" stroke-width="1"/><text x="526.10" y="292.80" font-size="10" text-anchor="end" fill="#1a1a1a" stroke="#1a1a1a" stroke-width="0.22" >7.5</text><line x1="528.40" y1="264.30" x2="531.40" y2="264.30" stroke="#6e6e6e" stroke-width="1"/><text x="526.10" y="267.10" font-size="10" text-anchor="end" fill="#1a1a1a" stroke="#1a1a1a" stroke-width="0.22" >7.6</text><line x1="528.40" y1="238.60" x2="531.40" y2="238.60" stroke="#6e6e6e" stroke-width="1"/><text x="526.10" y="241.40" font-size="10" text-anchor="end" fill="#1a1a1a" stroke="#1a1a1a" stroke-width="0.22" >7.7</text><line x1="528.40" y1="212.90" x2="531.40" y2="212.90" stroke="#6e6e6e" stroke-width="1"/><text x="526.10" y="215.70" font-size="10" text-anchor="end" fill="#1a1a1a" stroke="#1a1a1a" stroke-width="0.22" >7.8</text><line x1="528.40" y1="187.20" x2="531.40" y2="187.20" stroke="#6e6e6e" stroke-width="1"/><text x="526.10" y="190.00" font-size="10" text-anchor="end" fill="#1a1a1a" stroke="#1a1a1a" stroke-width="0.22" >7.9</text><line x1="531.40" y1="341.40" x2="531.40" y2="344.40" stroke="#6e6e6e" stroke-width="1"/><text x="531.40" y="354.90" font-size="10" text-anchor="middle" fill="#1a1a1a" stroke="#1a1a1a" stroke-width="0.22" >0</text><line x1="545.08" y1="341.40" x2="545.08" y2="343.40" stroke="#6e6e6e" stroke-width="1"/><line x1="558.76" y1="341.40" x2="558.76" y2="344.40" stroke="#6e6e6e" stroke-width="1"/><text x="558.76" y="354.90" font-size="10" text-anchor="middle" fill="#1a1a1a" stroke="#1a1a1a" stroke-width="0.22" >2</text><line x1="572.44" y1="341.40" x2="572.44" y2="343.40" stroke="#6e6e6e" stroke-width="1"/><line x1="586.12" y1="341.40" x2="586.12" y2="344.40" stroke="#6e6e6e" stroke-width="1"/><text x="586.12" y="354.90" font-size="10" text-anchor="middle" fill="#1a1a1a" stroke="#1a1a1a" stroke-width="0.22" >4</text><line x1="599.80" y1="341.40" x2="599.80" y2="343.40" stroke="#6e6e6e" stroke-width="1"/><line x1="613.48" y1="341.40" x2="613.48" y2="344.40" stroke="#6e6e6e" stroke-width="1"/><text x="613.48" y="354.90" font-size="10" text-anchor="middle" fill="#1a1a1a" stroke="#1a1a1a" stroke-width="0.22" >6</text><line x1="627.16" y1="341.40" x2="627.16" y2="343.40" stroke="#6e6e6e" stroke-width="1"/><line x1="640.84" y1="341.40" x2="640.84" y2="344.40" stroke="#6e6e6e" stroke-width="1"/><text x="640.84" y="354.90" font-size="10" text-anchor="middle" fill="#1a1a1a" stroke="#1a1a1a" stroke-width="0.22" >8</text><line x1="654.52" y1="341.40" x2="654.52" y2="343.40" stroke="#6e6e6e" stroke-width="1"/><line x1="668.20" y1="341.40" x2="668.20" y2="344.40" stroke="#6e6e6e" stroke-width="1"/><text x="668.20" y="354.90" font-size="10" text-anchor="middle" fill="#1a1a1a" stroke="#1a1a1a" stroke-width="0.22" >10</text><line x1="681.88" y1="341.40" x2="681.88" y2="343.40" stroke="#6e6e6e" stroke-width="1"/><line x1="695.56" y1="341.40" x2="695.56" y2="344.40" stroke="#6e6e6e" stroke-width="1"/><text x="695.56" y="354.90" font-size="10" text-anchor="middle" fill="#1a1a1a" stroke="#1a1a1a" stroke-width="0.22" >12</text><line x1="709.24" y1="341.40" x2="709.24" y2="343.40" stroke="#6e6e6e" stroke-width="1"/><line x1="722.92" y1="341.40" x2="722.92" y2="344.40" stroke="#6e6e6e" stroke-width="1"/><text x="722.92" y="354.90" font-size="10" text-anchor="middle" fill="#1a1a1a" stroke="#1a1a1a" stroke-width="0.22" >14</text><line x1="736.60" y1="341.40" x2="736.60" y2="343.40" stroke="#6e6e6e" stroke-width="1"/><text x="628.60" y="369.30" font-size="13" text-anchor="middle" fill="#1a1a1a" stroke="#1a1a1a" stroke-width="0.22" >Time (day)</text><text x="0" y="0" font-size="12" text-anchor="middle" fill="#1a1a1a" stroke="#1a1a1a" stroke-width="0.15" transform="translate(508.30,262.90) rotate(-90)">pH</text><polyline points="531.40,315.70 538.24,315.70 545.08,313.13 572.44,313.13 627.16,313.13 668.20,315.70 722.92,315.70" fill="none" stroke="#000" stroke-width="0.9"/><g opacity="0.6"><line x1="538.24" y1="313.13" x2="538.24" y2="318.27" stroke="#444" stroke-width="0.7"/><line x1="536.44" y1="313.13" x2="540.04" y2="313.13" stroke="#444" stroke-width="0.7"/><line x1="536.44" y1="318.27" x2="540.04" y2="318.27" stroke="#444" stroke-width="0.7"/></g><g opacity="0.6"><line x1="545.08" y1="310.56" x2="545.08" y2="315.70" stroke="#444" stroke-width="0.7"/><line x1="543.28" y1="310.56" x2="546.88" y2="310.56" stroke="#444" stroke-width="0.7"/><line x1="543.28" y1="315.70" x2="546.88" y2="315.70" stroke="#444" stroke-width="0.7"/></g><g opacity="0.6"><line x1="572.44" y1="309.27" x2="572.44" y2="316.98" stroke="#444" stroke-width="0.7"/><line x1="570.64" y1="309.27" x2="574.24" y2="309.27" stroke="#444" stroke-width="0.7"/><line x1="570.64" y1="316.98" x2="574.24" y2="316.98" stroke="#444" stroke-width="0.7"/></g><g opacity="0.6"><line x1="627.16" y1="309.27" x2="627.16" y2="316.98" stroke="#444" stroke-width="0.7"/><line x1="625.36" y1="309.27" x2="628.96" y2="309.27" stroke="#444" stroke-width="0.7"/><line x1="625.36" y1="316.98" x2="628.96" y2="316.98" stroke="#444" stroke-width="0.7"/></g><g opacity="0.6"><line x1="668.20" y1="313.13" x2="668.20" y2="318.27" stroke="#444" stroke-width="0.7"/><line x1="666.40" y1="313.13" x2="670.00" y2="313.13" stroke="#444" stroke-width="0.7"/><line x1="666.40" y1="318.27" x2="670.00" y2="318.27" stroke="#444" stroke-width="0.7"/></g><g opacity="0.6"><line x1="722.92" y1="310.56" x2="722.92" y2="320.84" stroke="#444" stroke-width="0.7"/><line x1="721.12" y1="310.56" x2="724.72" y2="310.56" stroke="#444" stroke-width="0.7"/><line x1="721.12" y1="320.84" x2="724.72" y2="320.84" stroke="#444" stroke-width="0.7"/></g><rect x="529.70" y="314.00" width="3.4" height="3.4" fill="#000"/><rect x="536.54" y="314.00" width="3.4" height="3.4" fill="#000"/><rect x="543.38" y="311.43" width="3.4" height="3.4" fill="#000"/><rect x="570.74" y="311.43" width="3.4" height="3.4" fill="#000"/><rect x="625.46" y="311.43" width="3.4" height="3.4" fill="#000"/><rect x="666.50" y="314.00" width="3.4" height="3.4" fill="#000"/><rect x="721.22" y="314.00" width="3.4" height="3.4" fill="#000"/><polyline points="531.40,315.70 538.24,302.85 545.08,292.57 572.44,266.87 627.16,243.74 668.20,233.46 722.92,230.89" fill="none" stroke="#1f40ff" stroke-width="0.9"/><g opacity="0.6"><line x1="538.24" y1="299.00" x2="538.24" y2="306.70" stroke="#1f40ff" stroke-width="0.7"/><line x1="536.44" y1="299.00" x2="540.04" y2="299.00" stroke="#1f40ff" stroke-width="0.7"/><line x1="536.44" y1="306.70" x2="540.04" y2="306.70" stroke="#1f40ff" stroke-width="0.7"/></g><g opacity="0.6"><line x1="545.08" y1="284.86" x2="545.08" y2="300.28" stroke="#1f40ff" stroke-width="0.7"/><line x1="543.28" y1="284.86" x2="546.88" y2="284.86" stroke="#1f40ff" stroke-width="0.7"/><line x1="543.28" y1="300.28" x2="546.88" y2="300.28" stroke="#1f40ff" stroke-width="0.7"/></g><g opacity="0.6"><line x1="572.44" y1="261.73" x2="572.44" y2="272.01" stroke="#1f40ff" stroke-width="0.7"/><line x1="570.64" y1="261.73" x2="574.24" y2="261.73" stroke="#1f40ff" stroke-width="0.7"/><line x1="570.64" y1="272.01" x2="574.24" y2="272.01" stroke="#1f40ff" stroke-width="0.7"/></g><g opacity="0.6"><line x1="627.16" y1="238.60" x2="627.16" y2="248.88" stroke="#1f40ff" stroke-width="0.7"/><line x1="625.36" y1="238.60" x2="628.96" y2="238.60" stroke="#1f40ff" stroke-width="0.7"/><line x1="625.36" y1="248.88" x2="628.96" y2="248.88" stroke="#1f40ff" stroke-width="0.7"/></g><g opacity="0.6"><line x1="668.20" y1="228.32" x2="668.20" y2="238.60" stroke="#1f40ff" stroke-width="0.7"/><line x1="666.40" y1="228.32" x2="670.00" y2="228.32" stroke="#1f40ff" stroke-width="0.7"/><line x1="666.40" y1="238.60" x2="670.00" y2="238.60" stroke="#1f40ff" stroke-width="0.7"/></g><g opacity="0.6"><line x1="722.92" y1="223.18" x2="722.92" y2="238.60" stroke="#1f40ff" stroke-width="0.7"/><line x1="721.12" y1="223.18" x2="724.72" y2="223.18" stroke="#1f40ff" stroke-width="0.7"/><line x1="721.12" y1="238.60" x2="724.72" y2="238.60" stroke="#1f40ff" stroke-width="0.7"/></g><path d="M531.40,313.30 L533.70,317.30 L529.10,317.30 Z" fill="#1f40ff"/><path d="M538.24,300.45 L540.54,304.45 L535.94,304.45 Z" fill="#1f40ff"/><path d="M545.08,290.17 L547.38,294.17 L542.78,294.17 Z" fill="#1f40ff"/><path d="M572.44,264.47 L574.74,268.47 L570.14,268.47 Z" fill="#1f40ff"/><path d="M627.16,241.34 L629.46,245.34 L624.86,245.34 Z" fill="#1f40ff"/><path d="M668.20,231.06 L670.50,235.06 L665.90,235.06 Z" fill="#1f40ff"/><path d="M722.92,228.49 L725.22,232.49 L720.62,232.49 Z" fill="#1f40ff"/><polyline points="531.40,315.70 538.24,315.70 545.08,310.56 572.44,310.56 627.16,310.56 668.20,313.13 722.92,313.13" fill="none" stroke="#ff2020" stroke-width="0.9"/><g opacity="0.6"><line x1="538.24" y1="310.56" x2="538.24" y2="320.84" stroke="#ff2020" stroke-width="0.7"/><line x1="536.44" y1="310.56" x2="540.04" y2="310.56" stroke="#ff2020" stroke-width="0.7"/><line x1="536.44" y1="320.84" x2="540.04" y2="320.84" stroke="#ff2020" stroke-width="0.7"/></g><g opacity="0.6"><line x1="545.08" y1="305.42" x2="545.08" y2="315.70" stroke="#ff2020" stroke-width="0.7"/><line x1="543.28" y1="305.42" x2="546.88" y2="305.42" stroke="#ff2020" stroke-width="0.7"/><line x1="543.28" y1="315.70" x2="546.88" y2="315.70" stroke="#ff2020" stroke-width="0.7"/></g><g opacity="0.6"><line x1="572.44" y1="305.42" x2="572.44" y2="315.70" stroke="#ff2020" stroke-width="0.7"/><line x1="570.64" y1="305.42" x2="574.24" y2="305.42" stroke="#ff2020" stroke-width="0.7"/><line x1="570.64" y1="315.70" x2="574.24" y2="315.70" stroke="#ff2020" stroke-width="0.7"/></g><g opacity="0.6"><line x1="627.16" y1="305.42" x2="627.16" y2="315.70" stroke="#ff2020" stroke-width="0.7"/><line x1="625.36" y1="305.42" x2="628.96" y2="305.42" stroke="#ff2020" stroke-width="0.7"/><line x1="625.36" y1="315.70" x2="628.96" y2="315.70" stroke="#ff2020" stroke-width="0.7"/></g><g opacity="0.6"><line x1="668.20" y1="310.56" x2="668.20" y2="315.70" stroke="#ff2020" stroke-width="0.7"/><line x1="666.40" y1="310.56" x2="670.00" y2="310.56" stroke="#ff2020" stroke-width="0.7"/><line x1="666.40" y1="315.70" x2="670.00" y2="315.70" stroke="#ff2020" stroke-width="0.7"/></g><g opacity="0.6"><line x1="722.92" y1="310.56" x2="722.92" y2="315.70" stroke="#ff2020" stroke-width="0.7"/><line x1="721.12" y1="310.56" x2="724.72" y2="310.56" stroke="#ff2020" stroke-width="0.7"/><line x1="721.12" y1="315.70" x2="724.72" y2="315.70" stroke="#ff2020" stroke-width="0.7"/></g><circle cx="531.40" cy="315.70" r="2.0" fill="#ff2020"/><circle cx="538.24" cy="315.70" r="2.0" fill="#ff2020"/><circle cx="545.08" cy="310.56" r="2.0" fill="#ff2020"/><circle cx="572.44" cy="310.56" r="2.0" fill="#ff2020"/><circle cx="627.16" cy="310.56" r="2.0" fill="#ff2020"/><circle cx="668.20" cy="313.13" r="2.0" fill="#ff2020"/><circle cx="722.92" cy="313.13" r="2.0" fill="#ff2020"/><polyline points="531.40,315.70 538.24,310.56 545.08,298.48 572.44,282.29 627.16,272.01 668.20,266.87 722.92,264.30" fill="none" stroke="#ff40ff" stroke-width="0.9"/><g opacity="0.6"><line x1="538.24" y1="306.71" x2="538.24" y2="314.41" stroke="#ff40ff" stroke-width="0.7"/><line x1="536.44" y1="306.71" x2="540.04" y2="306.71" stroke="#ff40ff" stroke-width="0.7"/><line x1="536.44" y1="314.41" x2="540.04" y2="314.41" stroke="#ff40ff" stroke-width="0.7"/></g><g opacity="0.6"><line x1="545.08" y1="293.34" x2="545.08" y2="303.62" stroke="#ff40ff" stroke-width="0.7"/><line x1="543.28" y1="293.34" x2="546.88" y2="293.34" stroke="#ff40ff" stroke-width="0.7"/><line x1="543.28" y1="303.62" x2="546.88" y2="303.62" stroke="#ff40ff" stroke-width="0.7"/></g><g opacity="0.6"><line x1="572.44" y1="279.72" x2="572.44" y2="284.86" stroke="#ff40ff" stroke-width="0.7"/><line x1="570.64" y1="279.72" x2="574.24" y2="279.72" stroke="#ff40ff" stroke-width="0.7"/><line x1="570.64" y1="284.86" x2="574.24" y2="284.86" stroke="#ff40ff" stroke-width="0.7"/></g><g opacity="0.6"><line x1="627.16" y1="269.44" x2="627.16" y2="274.58" stroke="#ff40ff" stroke-width="0.7"/><line x1="625.36" y1="269.44" x2="628.96" y2="269.44" stroke="#ff40ff" stroke-width="0.7"/><line x1="625.36" y1="274.58" x2="628.96" y2="274.58" stroke="#ff40ff" stroke-width="0.7"/></g><g opacity="0.6"><line x1="668.20" y1="261.73" x2="668.20" y2="272.01" stroke="#ff40ff" stroke-width="0.7"/><line x1="666.40" y1="261.73" x2="670.00" y2="261.73" stroke="#ff40ff" stroke-width="0.7"/><line x1="666.40" y1="272.01" x2="670.00" y2="272.01" stroke="#ff40ff" stroke-width="0.7"/></g><g opacity="0.6"><line x1="722.92" y1="259.16" x2="722.92" y2="269.44" stroke="#ff40ff" stroke-width="0.7"/><line x1="721.12" y1="259.16" x2="724.72" y2="259.16" stroke="#ff40ff" stroke-width="0.7"/><line x1="721.12" y1="269.44" x2="724.72" y2="269.44" stroke="#ff40ff" stroke-width="0.7"/></g><path d="M531.40,318.10 L533.70,314.10 L529.10,314.10 Z" fill="#ff40ff"/><path d="M538.24,312.96 L540.54,308.96 L535.94,308.96 Z" fill="#ff40ff"/><path d="M545.08,300.88 L547.38,296.88 L542.78,296.88 Z" fill="#ff40ff"/><path d="M572.44,284.69 L574.74,280.69 L570.14,280.69 Z" fill="#ff40ff"/><path d="M627.16,274.41 L629.46,270.41 L624.86,270.41 Z" fill="#ff40ff"/><path d="M668.20,269.27 L670.50,265.27 L665.90,265.27 Z" fill="#ff40ff"/><path d="M722.92,266.70 L725.22,262.70 L720.62,262.70 Z" fill="#ff40ff"/><line x1="537.20" y1="220.90" x2="555.40" y2="220.90" stroke="#000" stroke-width="0.9"/><rect x="544.60" y="219.20" width="3.4" height="3.4" fill="#000"/><text x="557.80" y="224.10" font-size="9" text-anchor="start" fill="#1a1a1a" stroke="#1a1a1a" stroke-width="0.22" >SPK</text><line x1="537.20" y1="231.60" x2="555.40" y2="231.60" stroke="#1f40ff" stroke-width="0.9"/><path d="M546.30,229.20 L548.60,233.20 L544.00,233.20 Z" fill="#1f40ff"/><text x="557.80" y="234.80" font-size="9" text-anchor="start" fill="#1a1a1a" stroke="#1a1a1a" stroke-width="0.22" >SNP</text><line x1="537.20" y1="242.30" x2="555.40" y2="242.30" stroke="#ff2020" stroke-width="0.9"/><circle cx="546.30" cy="242.30" r="2.0" fill="#ff2020"/><text x="557.80" y="245.50" font-size="9" text-anchor="start" fill="#1a1a1a" stroke="#1a1a1a" stroke-width="0.22" >TAP</text><line x1="537.20" y1="253.00" x2="555.40" y2="253.00" stroke="#ff40ff" stroke-width="0.9"/><path d="M546.30,255.40 L548.60,251.40 L544.00,251.40 Z" fill="#ff40ff"/><text x="557.80" y="256.20" font-size="9" text-anchor="start" fill="#1a1a1a" stroke="#1a1a1a" stroke-width="0.22" >STP</text><rect x="531.4" y="187.2" width="205.20000000000005" height="154.2" fill="none" stroke="#6e6e6e" stroke-width="1"/><text x="544.00" y="207.60" font-size="19" text-anchor="start" fill="#000" stroke="#000" stroke-width="0.22" >f</text></svg></body></html>
